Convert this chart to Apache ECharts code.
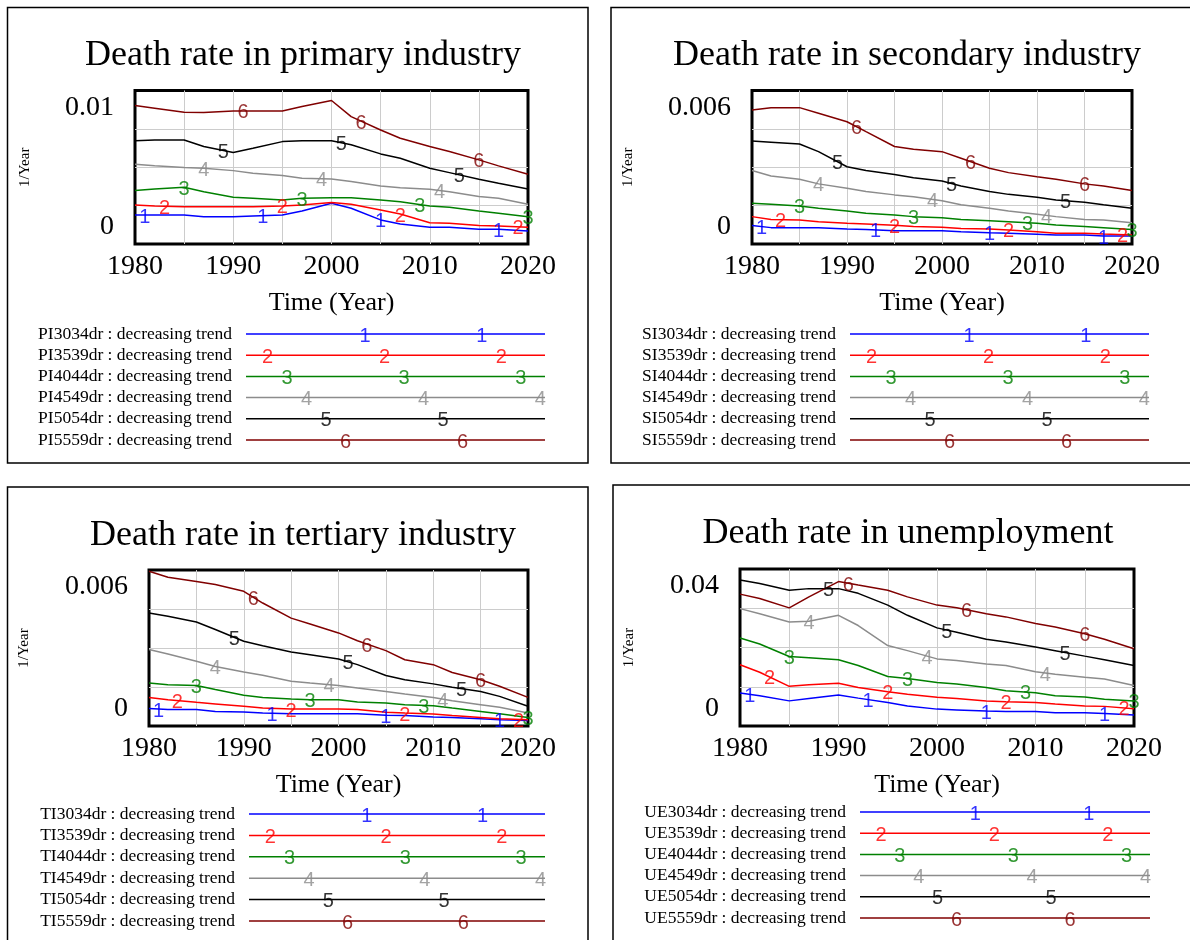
<!DOCTYPE html>
<html>
<head>
<meta charset="utf-8">
<script src="https://cdn.jsdelivr.net/npm/echarts@6/dist/echarts.min.js"></script>
<style>
  html, body { margin: 0; padding: 0; background: #fff; }
  #main { width: 1190px; height: 940px; }
</style>
</head>
<body>
<div id="main"></div>
<script>
var years = [1980, 1982, 1985, 1987, 1990, 1992, 1995, 1997, 2000, 2002, 2005, 2007, 2010, 2012, 2015, 2017, 2020];
var ageGroups = ['3034', '3539', '4044', '4549', '5054', '5559'];

// primary industry
var pi3034 = [0.00189, 0.00189, 0.00189, 0.00178, 0.00178, 0.00183, 0.00189, 0.00215, 0.00265, 0.00233, 0.00157, 0.00130, 0.00109, 0.00109, 0.00096, 0.00096, 0.00085];
var pi3539 = [0.00254, 0.00248, 0.00243, 0.00243, 0.00243, 0.00243, 0.00248, 0.00254, 0.00270, 0.00259, 0.00222, 0.00195, 0.00139, 0.00135, 0.00120, 0.00117, 0.00109];
var pi4044 = [0.00348, 0.00359, 0.00370, 0.00341, 0.00304, 0.00298, 0.00287, 0.00298, 0.00302, 0.00302, 0.00287, 0.00276, 0.00248, 0.00239, 0.00215, 0.00200, 0.00178];
var pi4549 = [0.00520, 0.00509, 0.00498, 0.00493, 0.00478, 0.00461, 0.00446, 0.00428, 0.00424, 0.00407, 0.00378, 0.00367, 0.00357, 0.00341, 0.00309, 0.00298, 0.00259];
var pi5054 = [0.00672, 0.00678, 0.00678, 0.00635, 0.00596, 0.00624, 0.00667, 0.00672, 0.00672, 0.00646, 0.00587, 0.00559, 0.00493, 0.00465, 0.00422, 0.00396, 0.00359];
var pi5559 = [0.00902, 0.00885, 0.00859, 0.00857, 0.00867, 0.00867, 0.00867, 0.00896, 0.00935, 0.00830, 0.00743, 0.00689, 0.00635, 0.00602, 0.00548, 0.00509, 0.00454];

// secondary industry
var si3034 = [0.00072, 0.00064, 0.00064, 0.00064, 0.00059, 0.00057, 0.00052, 0.00052, 0.00052, 0.00048, 0.00044, 0.00042, 0.00038, 0.00035, 0.00035, 0.00031, 0.00031];
var si3539 = [0.00107, 0.00096, 0.00094, 0.00087, 0.00081, 0.00078, 0.00073, 0.00068, 0.00065, 0.00061, 0.00059, 0.00055, 0.00048, 0.00042, 0.00042, 0.00039, 0.00035];
var si4044 = [0.00159, 0.00155, 0.00149, 0.00140, 0.00129, 0.00120, 0.00113, 0.00107, 0.00103, 0.00096, 0.00091, 0.00087, 0.00081, 0.00074, 0.00068, 0.00064, 0.00057];
var si4549 = [0.00287, 0.00266, 0.00253, 0.00235, 0.00218, 0.00205, 0.00192, 0.00185, 0.00169, 0.00153, 0.00140, 0.00129, 0.00116, 0.00107, 0.00096, 0.00094, 0.00083];
var si5054 = [0.00403, 0.00398, 0.00391, 0.00361, 0.00302, 0.00287, 0.00272, 0.00259, 0.00246, 0.00227, 0.00205, 0.00194, 0.00183, 0.00172, 0.00163, 0.00153, 0.00140];
var si5559 = [0.00524, 0.00533, 0.00533, 0.00511, 0.00478, 0.00439, 0.00381, 0.00370, 0.00361, 0.00335, 0.00296, 0.00279, 0.00263, 0.00253, 0.00235, 0.00227, 0.00209];

// tertiary industry
var ti3034 = [0.00067, 0.00063, 0.00063, 0.00056, 0.00054, 0.00050, 0.00047, 0.00047, 0.00047, 0.00047, 0.00041, 0.00040, 0.00035, 0.00033, 0.00028, 0.00024, 0.00021];
var ti3539 = [0.00110, 0.00101, 0.00091, 0.00085, 0.00076, 0.00069, 0.00065, 0.00065, 0.00065, 0.00063, 0.00053, 0.00050, 0.00046, 0.00040, 0.00033, 0.00028, 0.00024];
var ti4044 = [0.00165, 0.00159, 0.00156, 0.00140, 0.00118, 0.00110, 0.00104, 0.00101, 0.00101, 0.00092, 0.00088, 0.00082, 0.00078, 0.00069, 0.00056, 0.00047, 0.00033];
var ti4549 = [0.00294, 0.00277, 0.00249, 0.00229, 0.00208, 0.00195, 0.00172, 0.00165, 0.00156, 0.00146, 0.00133, 0.00123, 0.00110, 0.00097, 0.00082, 0.00072, 0.00050];
var ti5054 = [0.00435, 0.00422, 0.00400, 0.00371, 0.00326, 0.00309, 0.00285, 0.00274, 0.00258, 0.00236, 0.00194, 0.00178, 0.00162, 0.00149, 0.00133, 0.00114, 0.00076];
var ti5559 = [0.00595, 0.00572, 0.00556, 0.00544, 0.00518, 0.00473, 0.00415, 0.00392, 0.00358, 0.00328, 0.00290, 0.00255, 0.00236, 0.00206, 0.00178, 0.00153, 0.00110];

// unemployment
var ue3034 = [0.0084, 0.0077, 0.0064, 0.0070, 0.0079, 0.0071, 0.0060, 0.0051, 0.0043, 0.0041, 0.0038, 0.0037, 0.0037, 0.0034, 0.0034, 0.0032, 0.0028];
var ue3539 = [0.0156, 0.0137, 0.0101, 0.0105, 0.0109, 0.0098, 0.0087, 0.0081, 0.0073, 0.0070, 0.0064, 0.0062, 0.0060, 0.0056, 0.0051, 0.0050, 0.0044];
var ue4044 = [0.0224, 0.0209, 0.0177, 0.0174, 0.0169, 0.0154, 0.0126, 0.0121, 0.0111, 0.0107, 0.0098, 0.0090, 0.0085, 0.0077, 0.0074, 0.0068, 0.0064];
var ue4549 = [0.0299, 0.0286, 0.0265, 0.0267, 0.0282, 0.0256, 0.0205, 0.0192, 0.0171, 0.0167, 0.0158, 0.0154, 0.0138, 0.0132, 0.0124, 0.0120, 0.0103];
var ue5054 = [0.0372, 0.0363, 0.0346, 0.0350, 0.0350, 0.0338, 0.0308, 0.0282, 0.0250, 0.0239, 0.0221, 0.0214, 0.0201, 0.0192, 0.0178, 0.0169, 0.0154];
var ue5559 = [0.0336, 0.0325, 0.0301, 0.0329, 0.0368, 0.0359, 0.0346, 0.0329, 0.0308, 0.0301, 0.0286, 0.0278, 0.0261, 0.0252, 0.0235, 0.0221, 0.0197];

var titles = ['Death rate in primary industry', 'Death rate in secondary industry', 'Death rate in tertiary industry', 'Death rate in unemployment'];
var prefixes = ['PI', 'SI', 'TI', 'UE'];
var yMaxes = [0.01, 0.006, 0.006, 0.04];
var yTopLabels = ['0.01', '0.006', '0.006', '0.04'];
var panelData = [
  [pi3034, pi3539, pi4044, pi4549, pi5054, pi5559],
  [si3034, si3539, si4044, si4549, si5054, si5559],
  [ti3034, ti3539, ti4044, ti4549, ti5054, ti5559],
  [ue3034, ue3539, ue4044, ue4549, ue5054, ue5559]
];

var colors = ['#0000ff', '#ff0000', '#008000', '#8c8c8c', '#000000', '#800000'];
var serif = 'Liberation Serif';
var sans = 'Liberation Sans';

// layout of each panel (frame, title, plot area, legend block)
var layout = [
  { frame: [7.5, 7.5, 580.5, 455.5], titleX: 298, titleY: 33,
    plot: [135, 90.5, 393, 153.5], nameGap: 102,
    legend: [246, 323.4, 299, 127.2] },
  { frame: [611, 7.5, 590, 455.5], titleX: 902, titleY: 33,
    plot: [752, 90.5, 380, 153.5], nameGap: 116,
    legend: [850, 323.4, 299, 127.2] },
  { frame: [7.5, 487, 580.5, 500], titleX: 298, titleY: 513,
    plot: [149, 570, 379, 156], nameGap: 117,
    legend: [249, 803.3, 296, 128.4] },
  { frame: [613, 485, 590, 500], titleX: 903, titleY: 511,
    plot: [740, 569, 394, 157], nameGap: 103,
    legend: [860, 801.4, 290, 127.2] }
];

function valueAt(vals, yr) {
  for (var j = 0; j < years.length - 1; j++) {
    if (yr >= years[j] && yr <= years[j + 1]) {
      var t = (yr - years[j]) / (years[j + 1] - years[j]);
      return vals[j] + t * (vals[j + 1] - vals[j]);
    }
  }
  return vals[vals.length - 1];
}

var grids = [], xAxes = [], yAxes = [], series = [], titleList = [], graphics = [];

layout.forEach(function (L, p) {
  var yMax = yMaxes[p];
  var topLabel = yTopLabels[p];

  graphics.push({
    type: 'rect', silent: true, z: 100,
    shape: { x: L.frame[0], y: L.frame[1], width: L.frame[2], height: L.frame[3] },
    style: { fill: 'none', stroke: '#000', lineWidth: 1.5 }
  });

  titleList.push({
    text: titles[p], left: L.titleX, top: L.titleY, textAlign: 'center',
    textStyle: { fontFamily: serif, fontSize: 36, fontWeight: 'normal', color: '#000' }
  });

  // chart grid
  var gi = grids.length;
  grids.push({
    left: L.plot[0], top: L.plot[1], width: L.plot[2], height: L.plot[3],
    show: true, borderColor: '#000', borderWidth: 3, backgroundColor: 'transparent',
    outerBoundsMode: 'none'
  });
  xAxes.push({
    gridIndex: gi, type: 'value', min: 1980, max: 2020, interval: 5,
    name: 'Time (Year)', nameLocation: 'middle', nameGap: 46,
    nameTextStyle: { fontFamily: serif, fontSize: 26, color: '#000' },
    axisLine: { show: false }, axisTick: { show: false },
    axisLabel: {
      fontFamily: serif, fontSize: 28, color: '#000', margin: 9,
      showMinLabel: true, showMaxLabel: true,
      formatter: function (v) { return v % 10 === 0 ? String(v) : ''; }
    },
    splitLine: { show: true, showMinLine: false, showMaxLine: false, lineStyle: { color: '#cccccc', width: 1 } }
  });
  yAxes.push({
    gridIndex: gi, type: 'value', min: 0, max: yMax, interval: yMax / 4,
    name: '1/Year', nameLocation: 'middle', nameRotate: 90, nameGap: L.nameGap,
    nameTextStyle: { fontFamily: serif, fontSize: 15, color: '#000' },
    axisLine: { show: false }, axisTick: { show: false },
    axisLabel: {
      margin: 21, color: '#000', fontFamily: serif, fontSize: 28,
      showMinLabel: true, showMaxLabel: true,
      formatter: function (v) {
        if (Math.abs(v - yMax) < yMax * 1e-6) return '{t|' + topLabel + '}';
        if (v === 0) return '{b|0}';
        return '';
      },
      rich: {
        t: { fontFamily: serif, fontSize: 28, color: '#000', padding: [34, 0, 0, 0] },
        b: { fontFamily: serif, fontSize: 28, color: '#000', padding: [0, 0, 34, 0] }
      }
    },
    splitLine: { show: true, showMinLine: false, showMaxLine: false, lineStyle: { color: '#cccccc', width: 1 } }
  });

  panelData[p].forEach(function (vals, i) {
    series.push({
      type: 'line', xAxisIndex: gi, yAxisIndex: gi,
      data: years.map(function (y, j) { return [y, vals[j]]; }),
      symbol: 'none', lineStyle: { color: colors[i], width: 1.5 }, itemStyle: { color: colors[i] },
      z: 2, silent: true
    });
    var marks = [];
    for (var k = 0; k < 4; k++) {
      var yr = 1981 + 2 * i + 12 * k;
      if (yr > 2021) break;
      yr = Math.min(yr, 2020);
      marks.push([yr, valueAt(vals, yr)]);
    }
    series.push({
      type: 'scatter', xAxisIndex: gi, yAxisIndex: gi, data: marks,
      symbol: 'circle', symbolSize: 0, clip: false, z: 3, silent: true,
      label: {
        show: true, position: 'inside', formatter: String(i + 1),
        fontFamily: sans, fontSize: 20, color: colors[i], offset: [0, 2]
      }
    });
  });

  // legend block drawn as its own grid
  var li = grids.length;
  var names = ageGroups.map(function (a) { return prefixes[p] + a + 'dr : decreasing trend'; });
  grids.push({
    left: L.legend[0], top: L.legend[1], width: L.legend[2], height: L.legend[3],
    show: false, outerBoundsMode: 'none'
  });
  xAxes.push({ gridIndex: li, type: 'value', min: 0, max: 1, show: false });
  yAxes.push({
    gridIndex: li, type: 'category', data: names, inverse: true,
    axisLine: { show: false }, axisTick: { show: false }, splitLine: { show: false },
    axisLabel: { fontFamily: serif, fontSize: 17.5, color: '#000', margin: 14, interval: 0 }
  });
  names.forEach(function (nm, i) {
    series.push({
      type: 'line', xAxisIndex: li, yAxisIndex: li,
      data: [[0, nm], [1, nm]],
      symbol: 'none', lineStyle: { color: colors[i], width: 1.5 }, silent: true
    });
    var pts = [];
    for (var k = -1; k < 3; k++) {
      var pos = 0.398 + 0.0652 * i + 0.391 * k;
      if (pos > 0.03 && pos < 1) pts.push([pos, nm]);
    }
    series.push({
      type: 'scatter', xAxisIndex: li, yAxisIndex: li, data: pts,
      symbol: 'circle', symbolSize: 0, clip: false, silent: true, z: 3,
      label: {
        show: true, position: 'inside', formatter: String(i + 1),
        fontFamily: sans, fontSize: 20, color: colors[i], offset: [0, 2]
      }
    });
  });
});

var chartDom = document.getElementById('main');
var myChart = echarts.init(chartDom);
var option = {
  animation: false,
  backgroundColor: '#fff',
  title: titleList,
  grid: grids,
  xAxis: xAxes,
  yAxis: yAxes,
  series: series,
  graphic: graphics
};
option && myChart.setOption(option);
</script>
</body>
</html>
